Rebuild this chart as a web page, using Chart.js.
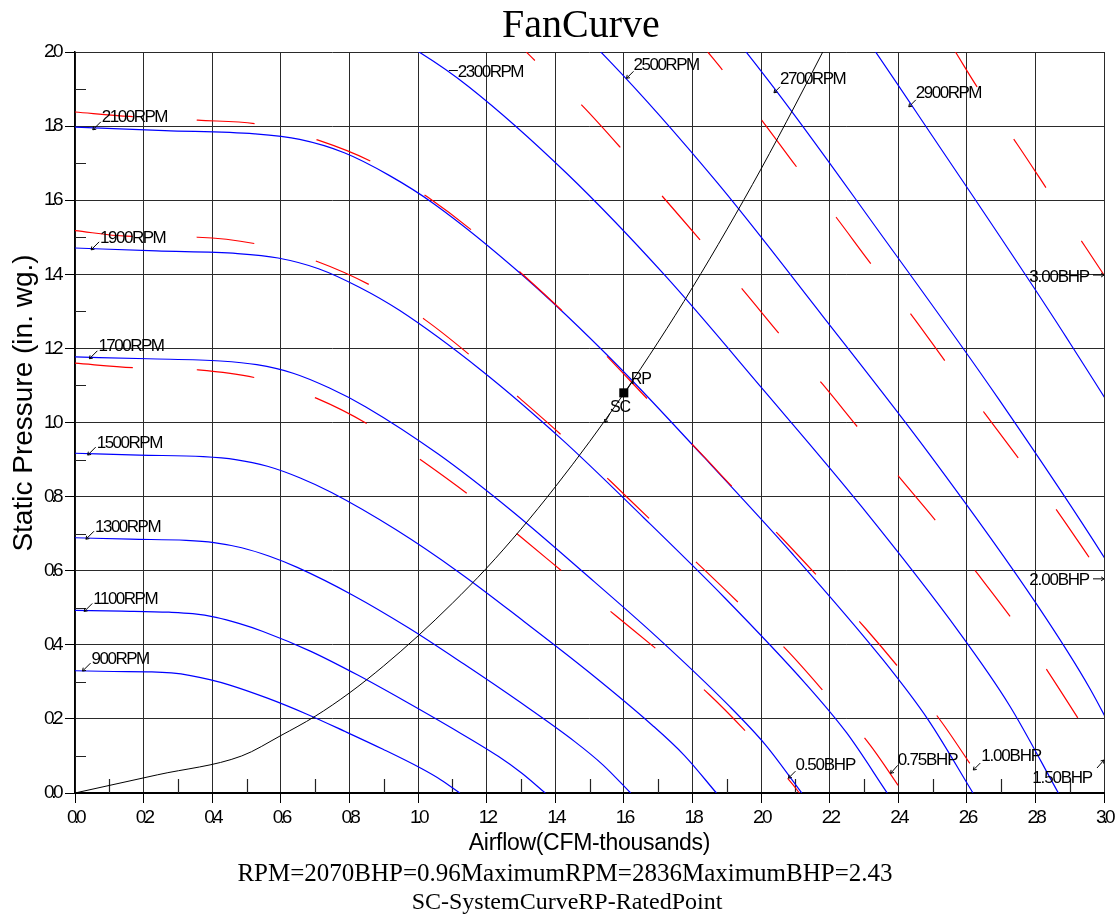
<!DOCTYPE html>
<html>
<head>
<meta charset="utf-8">
<script src="https://cdn.jsdelivr.net/npm/chart.js@4.4.0/dist/chart.umd.min.js"></script>
<style>
html,body{margin:0;padding:0;background:#fff;}
#wrap{width:1117px;height:916px;position:relative;}
</style>
</head>
<body>
<div id="wrap"><canvas id="c"></canvas></div>
<script>
// ---------- tick labels ----------
const xTickLabels = ['0.0','0.2','0.4','0.6','0.8','1.0','1.2','1.4','1.6','1.8','2.0','2.2','2.4','2.6','2.8','3.0'];
const yTickLabels = ['0.0','0.2','0.4','0.6','0.8','1.0','1.2','1.4','1.6','1.8','2.0'];

// ---------- fan curves (airflow thousands CFM, static pressure in. wg.) ----------
const rpmNames = ['900RPM','1100RPM','1300RPM','1500RPM','1700RPM','1900RPM','2100RPM','2300RPM','2500RPM','2700RPM','2900RPM'];
const rpm900  = [[0,0.330],[1.12,0.328],[2.24,0.327],[2.81,0.324],[3.37,0.317],[3.93,0.306],[4.49,0.292],[5.61,0.256],[6.73,0.214],[7.85,0.167],[8.98,0.118],[10.10,0.066],[10.66,0.036],[11.22,0]];
const rpm1100 = [[0,0.493],[1.37,0.491],[2.74,0.488],[3.43,0.484],[4.11,0.474],[4.80,0.457],[5.48,0.436],[6.86,0.383],[8.23,0.319],[9.60,0.249],[10.97,0.176],[12.34,0.099],[13.02,0.054],[13.71,0]];
const rpm1300 = [[0,0.689],[1.62,0.685],[3.24,0.682],[4.05,0.676],[4.86,0.662],[5.67,0.639],[6.48,0.609],[8.10,0.534],[9.72,0.446],[11.34,0.348],[12.96,0.246],[14.58,0.138],[15.39,0.076],[16.20,0]];
const rpm1500 = [[0,0.917],[1.87,0.912],[3.74,0.908],[4.68,0.900],[5.61,0.882],[6.55,0.851],[7.48,0.811],[9.35,0.711],[11.22,0.594],[13.09,0.463],[14.96,0.328],[16.83,0.183],[17.77,0.101],[18.70,0]];
const rpm1700 = [[0,1.177],[2.12,1.172],[4.24,1.166],[5.30,1.156],[6.36,1.133],[7.42,1.093],[8.48,1.042],[10.60,0.914],[12.71,0.763],[14.83,0.595],[16.95,0.422],[19.07,0.235],[20.13,0.130],[21.19,0]];
const rpm1900 = [[0,1.471],[2.37,1.463],[4.74,1.456],[5.92,1.444],[7.10,1.415],[8.29,1.365],[9.47,1.302],[11.84,1.141],[14.21,0.953],[16.58,0.743],[18.94,0.527],[21.31,0.294],[22.50,0.162],[23.68,0]];
const rpm2100 = [[0,1.797],[2.62,1.788],[5.24,1.779],[6.55,1.764],[7.85,1.728],[9.16,1.667],[10.47,1.590],[13.09,1.394],[15.71,1.164],[18.33,0.907],[20.94,0.643],[23.56,0.359],[24.87,0.198],[26.18,0]];
const rpm2300 = [[0,2.155],[2.87,2.144],[5.73,2.134],[7.17,2.116],[8.60,2.073],[10.03,2.000],[11.47,1.907],[14.34,1.672],[17.20,1.397],[20.07,1.088],[22.94,0.772],[25.80,0.431],[27.24,0.237],[28.67,0]];
const rpm2500 = [[0,2.546],[3.12,2.534],[6.23,2.521],[7.79,2.500],[9.35,2.449],[10.91,2.363],[12.46,2.253],[15.58,1.976],[18.70,1.650],[21.81,1.286],[24.93,0.912],[28.04,0.509],[29.60,0.280],[31.16,0]];
const rpm2700 = [[0,2.970],[3.37,2.955],[6.73,2.940],[8.42,2.917],[10.10,2.857],[11.78,2.756],[13.46,2.628],[16.83,2.305],[20.20,1.925],[23.56,1.500],[26.93,1.063],[30.29,0.594],[31.98,0.327],[33.66,0]];
const rpm2900 = [[0,3.426],[3.62,3.409],[7.23,3.392],[9.04,3.365],[10.85,3.296],[12.65,3.180],[14.46,3.032],[18.08,2.659],[21.69,2.220],[25.31,1.730],[28.92,1.227],[32.54,0.685],[34.34,0.377],[36.15,0]];

// ---------- constant BHP curves ----------
const bhpNames = ['0.50BHP','0.75BHP','1.00BHP','1.50BHP','2.00BHP','3.00BHP'];
const bhp050 = [[0,1.160],[1.7,1.148],[3.59,1.142],[5.34,1.119],[7.05,1.065],[8.62,0.991],[10.16,0.894],[11.56,0.799],[13.0,0.691],[14.35,0.587],[15.76,0.479],[17.1,0.377],[18.49,0.266],[19.7,0.152],[20.9,0.026],[21.12,0]];
const bhp075 = [[0,1.518],[1.5,1.503],[3.58,1.500],[5.34,1.481],[7.08,1.434],[8.68,1.367],[10.21,1.277],[11.59,1.176],[12.97,1.065],[14.29,0.957],[15.63,0.840],[16.92,0.725],[18.25,0.611],[19.52,0.498],[20.83,0.378],[21.99,0.257],[23.16,0.132],[24.15,0]];
const bhp100 = [[0,1.838],[1.6,1.826],[3.58,1.816],[5.34,1.805],[7.09,1.762],[8.73,1.700],[10.27,1.609],[11.66,1.512],[13.07,1.398],[14.43,1.281],[15.63,1.167],[16.85,1.048],[18.13,0.928],[19.32,0.811],[20.6,0.689],[21.8,0.570],[23.05,0.444],[24.16,0.322],[25.27,0.191],[26.26,0.056],[26.67,0]];
const bhp150 = [[13.16,2.0],[13.43,1.975],[14.76,1.858],[15.96,1.736],[17.13,1.610],[18.29,1.486],[19.49,1.356],[20.6,1.232],[21.79,1.104],[22.92,0.976],[24.08,0.847],[25.2,0.723],[26.33,0.590],[27.4,0.459],[28.4,0.323],[29.35,0.186],[30,0.090]];
const bhp200 = [[18.45,2.0],[18.89,1.95],[20.03,1.815],[21.07,1.686],[22.19,1.554],[23.25,1.423],[24.39,1.290],[25.43,1.158],[26.53,1.024],[27.6,0.892],[28.67,0.757],[29.67,0.622],[30,0.578]];
const bhp300 = [[25.67,2.0],[26.32,1.903],[27.47,1.751],[28.45,1.614],[29.45,1.475],[30,1.398]];

// ---------- system curve & rated point ----------
const systemCurve = [[0,0],[2.4,0.049],[4.86,0.100],[6,0.155],[7,0.207],[8,0.270],[9,0.343],[10,0.424],[11,0.512],[12,0.607],[13,0.712],[14,0.826],[15,0.948],[16,1.078],[17,1.217],[18,1.364],[19,1.520],[20,1.684],[21,1.857],[21.8,2.0]];
const ratedPoint = [16.0, 1.08];

const titleText = 'FanCurve';
const xTitle = 'Airflow(CFM-thousands)';
const yTitle = 'Static Pressure (in. wg.)';
const footLines = ['RPM=2070BHP=0.96MaximumRPM=2836MaximumBHP=2.43','SC-SystemCurveRP-RatedPoint'];

// ---------- build datasets ----------
const toXY = arr => arr.map(p => ({x:p[0], y:p[1]}));
const rpmCurves = [rpm900,rpm1100,rpm1300,rpm1500,rpm1700,rpm1900,rpm2100,rpm2300,rpm2500,rpm2700,rpm2900];
const bhpCurves = [bhp050,bhp075,bhp100,bhp150,bhp200,bhp300];
const bhpDashOffsets = [0,0,0,46,35,17];

const datasets = [];
datasets.push({label:'RP', data:[{x:ratedPoint[0], y:ratedPoint[1]}], showLine:false,
  pointStyle:'rect', pointRadius:6.4, backgroundColor:'#000', borderColor:'#000', borderWidth:0});
datasets.push({label:'System Curve', data:toXY(systemCurve), showLine:true, borderColor:'#000',
  borderWidth:1, pointRadius:0, cubicInterpolationMode:'monotone'});
bhpCurves.forEach((c,i) => datasets.push({label:bhpNames[i], data:toXY(c), showLine:true,
  borderColor:'#ff0000', borderWidth:1.2, pointRadius:0, cubicInterpolationMode:'monotone',
  borderDash:[58,64], borderDashOffset:bhpDashOffsets[i]}));
rpmCurves.forEach((c,i) => datasets.push({label:rpmNames[i], data:toXY(c), showLine:true,
  borderColor:'#0000ff', borderWidth:1.2, pointRadius:0, cubicInterpolationMode:'monotone'}));

// ---------- annotation label placement (anchor in data units, offsets in px) ----------
const labelSpecs = [
  {t:rpmNames[0], ax:0.22, ay:0.329, lx:8, ly:-8, tx:9, ty:-12, al:'left', f:'rpm'},
  {t:rpmNames[1], ax:0.27, ay:0.490, lx:8, ly:-8, tx:9, ty:-12, al:'left', f:'rpm'},
  {t:rpmNames[2], ax:0.32, ay:0.685, lx:8, ly:-8, tx:9, ty:-12, al:'left', f:'rpm'},
  {t:rpmNames[3], ax:0.37, ay:0.912, lx:8, ly:-8, tx:9, ty:-12, al:'left', f:'rpm'},
  {t:rpmNames[4], ax:0.42, ay:1.172, lx:8, ly:-8, tx:9, ty:-12, al:'left', f:'rpm'},
  {t:rpmNames[5], ax:0.47, ay:1.466, lx:8, ly:-8, tx:9, ty:-12, al:'left', f:'rpm'},
  {t:rpmNames[6], ax:0.52, ay:1.790, lx:8, ly:-8, tx:9, ty:-12, al:'left', f:'rpm'},
  {t:rpmNames[7], ax:10.9, ay:1.95, lx:9, ly:0, tx:9, ty:2, al:'left', f:'rpm', noArrow:true},
  {t:rpmNames[8], ax:16.08, ay:1.929, lx:7, ly:-7, tx:7, ty:-13, al:'left', f:'rpm'},
  {t:rpmNames[9], ax:20.38, ay:1.890, lx:6, ly:-6, tx:6, ty:-13, al:'left', f:'rpm'},
  {t:rpmNames[10], ax:24.31, ay:1.852, lx:7, ly:-7, tx:7, ty:-14, al:'left', f:'rpm'},
  {t:bhpNames[0], ax:20.8, ay:0.040, lx:7, ly:-7, tx:7, ty:-13, al:'left', f:'bhp'},
  {t:bhpNames[1], ax:23.78, ay:0.053, lx:7, ly:-8, tx:7, ty:-13, al:'left', f:'bhp'},
  {t:bhpNames[2], ax:26.19, ay:0.062, lx:7, ly:-7, tx:8, ty:-14, al:'left', f:'bhp'},
  {t:bhpNames[3], ax:30, ay:0.089, lx:-7, ly:8, tx:-12, ty:18, al:'right', f:'bhp'},
  {t:bhpNames[4], ax:30, ay:0.578, lx:-11, ly:0, tx:-15, ty:1, al:'right', f:'bhp'},
  {t:bhpNames[5], ax:30, ay:1.398, lx:-11, ly:0, tx:-15, ty:2, al:'right', f:'bhp'},
  {t:'RP', ax:ratedPoint[0], ay:ratedPoint[1], sx:3, sy:-3, lx:9, ly:-12, tx:7, ty:-13, al:'left', f:'pt', noArrow:true},
  {t:'SC', ax:15.45, ay:1.0, lx:5, ly:-9, tx:5, ty:-15, al:'left', f:'pt'}
];
const labelFonts = {
  rpm:{font:'17px "Liberation Sans", Arial, sans-serif', ls:'-1.5px'},
  bhp:{font:'17px "Liberation Sans", Arial, sans-serif', ls:'-1.2px'},
  pt:{font:'16px "Liberation Sans", Arial, sans-serif', ls:'-1px'}
};

function setLS(ctx, v){ try { ctx.letterSpacing = v; } catch(e){} }

const tickSpacing = {
  id:'tickSpacing',
  beforeDraw(chart){ setLS(chart.ctx, '-3.5px'); }
};

const minorTicks = {
  id:'minorTicks',
  beforeDatasetsDraw(chart){
    const {ctx, chartArea:a, scales:{x, y}} = chart;
    ctx.save();
    ctx.strokeStyle = '#222';
    ctx.lineWidth = 1.2;
    ctx.beginPath();
    for (let v = 1; v < 30; v += 2) {
      const px = Math.round(x.getPixelForValue(v)) + 0.5;
      ctx.moveTo(px, a.bottom); ctx.lineTo(px, a.bottom - 14);
    }
    for (let k = 1; k < 20; k += 2) {
      const py = Math.round(y.getPixelForValue(k/10)) + 0.5;
      ctx.moveTo(a.left, py); ctx.lineTo(a.left + 11, py);
    }
    ctx.stroke();
    ctx.restore();
  }
};

const textLayer = {
  id:'textLayer',
  afterDraw(chart){
    const {ctx, scales:{x, y}} = chart;
    ctx.save();
    ctx.fillStyle = '#000';
    ctx.strokeStyle = '#000';
    labelSpecs.forEach(s => {
      const px = x.getPixelForValue(s.ax), py = y.getPixelForValue(s.ay);
      const sx = px + (s.sx || 0), sy = py + (s.sy || 0);
      const ex = px + s.lx, ey = py + s.ly;
      ctx.lineWidth = 1;
      ctx.beginPath(); ctx.moveTo(sx, sy); ctx.lineTo(ex, ey); ctx.stroke();
      if (!s.noArrow) {
        const ang = Math.atan2(ey - sy, ex - sx);
        ctx.beginPath();
        ctx.moveTo(sx + 3.5*Math.cos(ang+0.6), sy + 3.5*Math.sin(ang+0.6));
        ctx.lineTo(sx, sy);
        ctx.lineTo(sx + 3.5*Math.cos(ang-0.6), sy + 3.5*Math.sin(ang-0.6));
        ctx.stroke();
      }
      const f = labelFonts[s.f];
      ctx.font = f.font; setLS(ctx, f.ls);
      ctx.textAlign = s.al; ctx.textBaseline = 'middle';
      ctx.fillText(s.t, px + s.tx, py + s.ty);
    });
    // title
    setLS(ctx, '0px');
    ctx.font = '40px "Liberation Serif", "Times New Roman", serif';
    ctx.textAlign = 'center'; ctx.textBaseline = 'alphabetic';
    ctx.fillText(titleText, 581, 37);
    // x axis title
    ctx.font = '23px "Liberation Sans", Arial, sans-serif';
    setLS(ctx, '-0.3px');
    ctx.textBaseline = 'middle';
    ctx.fillText(xTitle, (chart.chartArea.left + chart.chartArea.right)/2, 844);
    // y axis title
    ctx.save();
    ctx.translate(32, 403);
    ctx.rotate(-Math.PI/2);
    ctx.font = '28px "Liberation Sans", Arial, sans-serif';
    setLS(ctx, '0px');
    ctx.textAlign = 'center'; ctx.textBaseline = 'alphabetic';
    ctx.fillText(yTitle, 0, 0);
    ctx.restore();
    // footer lines
    setLS(ctx, '0px');
    ctx.textBaseline = 'alphabetic';
    ctx.font = '25px "Liberation Serif", "Times New Roman", serif';
    ctx.fillText(footLines[0], 565, 881);
    ctx.font = '24px "Liberation Serif", "Times New Roman", serif';
    ctx.fillText(footLines[1], 567, 909);
    ctx.restore();
  }
};

Chart.defaults.font.family = '"Liberation Sans", Arial, sans-serif';

new Chart(document.getElementById('c'), {
  type:'scatter',
  data:{datasets},
  options:{
    responsive:true,
    maintainAspectRatio:false,
    devicePixelRatio:1,
    animation:false,
    events:[],
    layout:{padding:{top:52, right:13, left:0, bottom:0}},
    plugins:{legend:{display:false}, tooltip:{enabled:false}, title:{display:false}},
    scales:{
      x:{
        type:'linear', min:0, max:30,
        afterFit(scale){ scale.height = 123; scale.paddingLeft = 0; scale.paddingRight = 0; },
        ticks:{stepSize:2, autoSkip:false, maxRotation:0, padding:3, color:'#000',
          font:{size:19}, callback:(v) => xTickLabels[Math.round(v/2)]},
        grid:{color:'#2a2a2a', lineWidth:1, drawTicks:true, tickLength:10, tickColor:'#000'},
        border:{display:true, color:'#000', width:2}
      },
      y:{
        type:'linear', min:0, max:2,
        afterFit(scale){ scale.width = 75; scale.paddingTop = 0; scale.paddingBottom = 0; },
        ticks:{stepSize:0.2, autoSkip:false, padding:5, color:'#000',
          font:{size:19}, callback:(v) => yTickLabels[Math.round(v/0.2)]},
        grid:{color:'#2a2a2a', lineWidth:1, drawTicks:true, tickLength:10, tickColor:'#000'},
        border:{display:true, color:'#000', width:1.5}
      }
    }
  },
  plugins:[tickSpacing, minorTicks, textLayer]
});
</script>
</body>
</html>
